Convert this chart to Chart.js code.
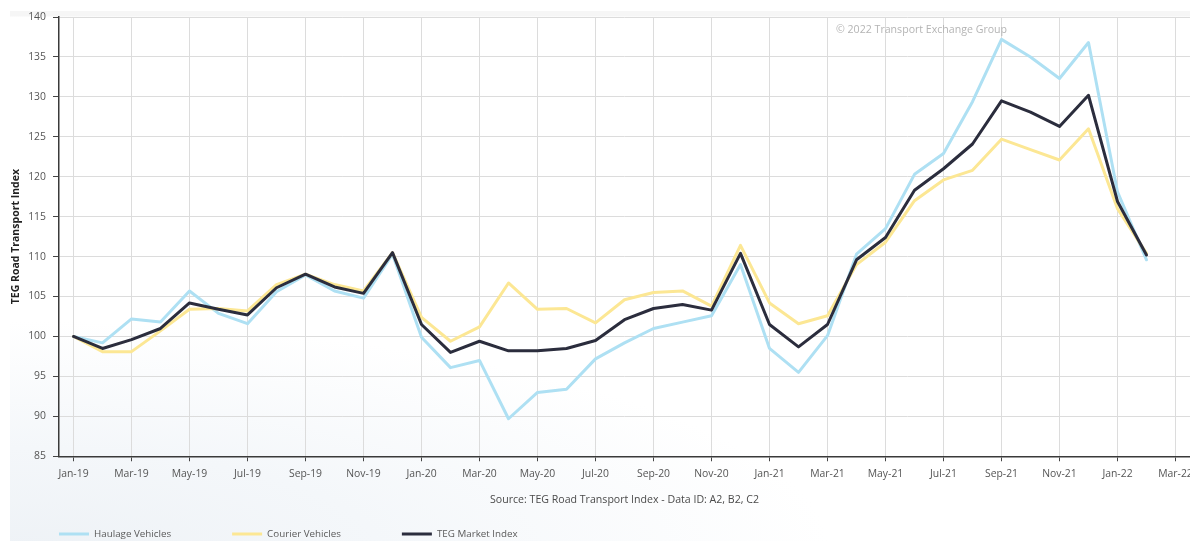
<!DOCTYPE html>
<html>
<head>
<meta charset="utf-8">
<script src="https://cdn.jsdelivr.net/npm/chart.js@4/dist/chart.umd.min.js"></script>
<style>
  html, body { margin: 0; padding: 0; background: #ffffff; overflow: hidden; width: 1190px; height: 541px; }
  #panel {
    position: absolute; left: 10px; top: 11px; width: 1200px; height: 540px;
    background:
      linear-gradient(to bottom, #f6f6f6 0px, #f6f6f6 5px, rgba(255,255,255,0) 6px),
      radial-gradient(ellipse 820px 230px at 0% 100%, #eef2f6 0%, #f4f7fa 45%, rgba(255,255,255,0) 100%),
      #ffffff;
  }
  #wrap { position: absolute; left: 0; top: 0; width: 1210px; height: 541px; }
</style>
</head>
<body>
<div id="panel"></div>
<div id="wrap"><canvas id="chart" width="1210" height="541"></canvas></div>
<script>
const FONT = "'Segoe UI', 'Open Sans', sans-serif";

const months = [
  'Jan-19','Feb-19','Mar-19','Apr-19','May-19','Jun-19','Jul-19','Aug-19','Sep-19','Oct-19','Nov-19','Dec-19',
  'Jan-20','Feb-20','Mar-20','Apr-20','May-20','Jun-20','Jul-20','Aug-20','Sep-20','Oct-20','Nov-20','Dec-20',
  'Jan-21','Feb-21','Mar-21','Apr-21','May-21','Jun-21','Jul-21','Aug-21','Sep-21','Oct-21','Nov-21','Dec-21',
  'Jan-22','Feb-22','Mar-22'
];

const haulage = [
  100.0, 99.2, 102.2, 101.8, 105.7, 102.9, 101.6, 105.6, 107.7, 105.7, 104.8, 110.3,
  99.9, 96.1, 97.0, 89.7, 93.0, 93.4, 97.2, 99.2, 101.0, 101.8, 102.6, 109.0,
  98.5, 95.5, 100.1, 110.3, 113.5, 120.3, 122.9, 129.4, 137.2, 135.0, 132.3, 136.8,
  118.1, 109.6
];

const courier = [
  100.0, 98.1, 98.1, 100.7, 103.4, 103.5, 103.2, 106.5, 107.8, 106.5, 105.7, 110.5,
  102.4, 99.4, 101.2, 106.7, 103.4, 103.5, 101.7, 104.6, 105.5, 105.7, 103.8, 111.4,
  104.2, 101.6, 102.6, 109.0, 111.8, 117.0, 119.6, 120.8, 124.7, 123.4, 122.1, 126.0,
  116.0, 110.4
];

const marketIndex = [
  100.0, 98.5, 99.6, 101.0, 104.2, 103.4, 102.7, 106.1, 107.8, 106.2, 105.4, 110.5,
  101.5, 98.0, 99.4, 98.2, 98.2, 98.5, 99.5, 102.1, 103.5, 104.0, 103.3, 110.4,
  101.5, 98.7, 101.5, 109.6, 112.4, 118.3, 121.0, 124.1, 129.5, 128.1, 126.3, 130.2,
  116.9, 110.2
];

const seriesNames = ['Haulage Vehicles', 'Courier Vehicles', 'TEG Market Index'];
const seriesColors = ['#aee0f3', '#fce794', '#2b2d3d'];

const yAxisTitle = 'TEG Road Transport Index';
const sourceText = 'Source: TEG Road Transport Index - Data ID: A2, B2, C2';
const copyrightText = '\u00A9 2022 Transport Exchange Group';

// Copyright mark inside the plot, and a line-sample legend along the bottom
const decorations = {
  id: 'decorations',
  beforeDatasetsDraw(chart) {
    const ctx = chart.ctx;
    ctx.save();
    ctx.font = '10.6px ' + FONT;
    ctx.fillStyle = '#b4b4b4';
    ctx.textAlign = 'left';
    ctx.textBaseline = 'middle';
    ctx.fillText(copyrightText, 836, 30);
    ctx.restore();
  },
  afterDraw(chart) {
    const ctx = chart.ctx;
    ctx.save();
    ctx.font = '9.8px ' + FONT;
    ctx.textBaseline = 'middle';
    ctx.textAlign = 'left';
    let x = chart.chartArea.left;
    const y = 534;
    chart.data.datasets.forEach(ds => {
      ctx.strokeStyle = ds.borderColor;
      ctx.lineWidth = 3;
      ctx.beginPath();
      ctx.moveTo(x, y);
      ctx.lineTo(x + 30, y);
      ctx.stroke();
      ctx.fillStyle = '#5a5a5a';
      ctx.fillText(ds.label, x + 35, y);
      x += 35 + ctx.measureText(ds.label).width + 61;
    });
    ctx.restore();
  }
};

new Chart(document.getElementById('chart'), {
  type: 'line',
  data: {
    labels: months,
    datasets: [
      { label: seriesNames[0], data: haulage, borderColor: seriesColors[0], order: 2 },
      { label: seriesNames[1], data: courier, borderColor: seriesColors[1], order: 1 },
      { label: seriesNames[2], data: marketIndex, borderColor: seriesColors[2], order: 0 }
    ]
  },
  options: {
    responsive: false,
    animation: false,
    events: [],
    layout: { padding: { top: 17, right: 20, bottom: 35, left: 0 } },
    elements: {
      point: { radius: 0 },
      line: { tension: 0, borderWidth: 3, borderJoinStyle: 'round', borderCapStyle: 'round', fill: false }
    },
    plugins: {
      legend: { display: false },
      tooltip: { enabled: false },
      title: {
        display: true,
        text: sourceText,
        position: 'bottom',
        fullSize: false,
        align: 'center',
        weight: 500,
        color: '#4a4a4a',
        font: { family: FONT, size: 10.6, weight: 'normal', lineHeight: 1.2 },
        padding: { top: 3, bottom: 0 }
      }
    },
    scales: {
      x: {
        type: 'category',
        offset: true,
        grid: { color: '#dcdcdc', lineWidth: 1, offset: false, tickColor: '#444', tickLength: 5 },
        border: { color: '#3a3a3a', width: 1.5 },
        ticks: {
          autoSkip: false,
          maxRotation: 0,
          padding: 7,
          color: '#555',
          font: { family: FONT, size: 10.4 },
          callback: function (value, index) {
            return index % 2 === 0 ? this.getLabelForValue(value) : null;
          }
        },
        afterFit(scale) { scale.height = 34; }
      },
      y: {
        min: 85,
        max: 140,
        grid: { color: '#dcdcdc', lineWidth: 1, tickColor: '#444', tickLength: 6 },
        border: { color: '#3a3a3a', width: 1.5 },
        ticks: {
          stepSize: 5,
          padding: 7,
          color: '#555',
          font: { family: FONT, size: 10.4 }
        },
        title: {
          display: true,
          text: yAxisTitle,
          color: '#222',
          font: { family: FONT, size: 10.5, weight: 'bold' },
          padding: { top: 10, bottom: 0 }
        },
        afterFit(scale) { scale.width = 59; }
      }
    }
  },
  plugins: [decorations]
});
</script>
</body>
</html>
